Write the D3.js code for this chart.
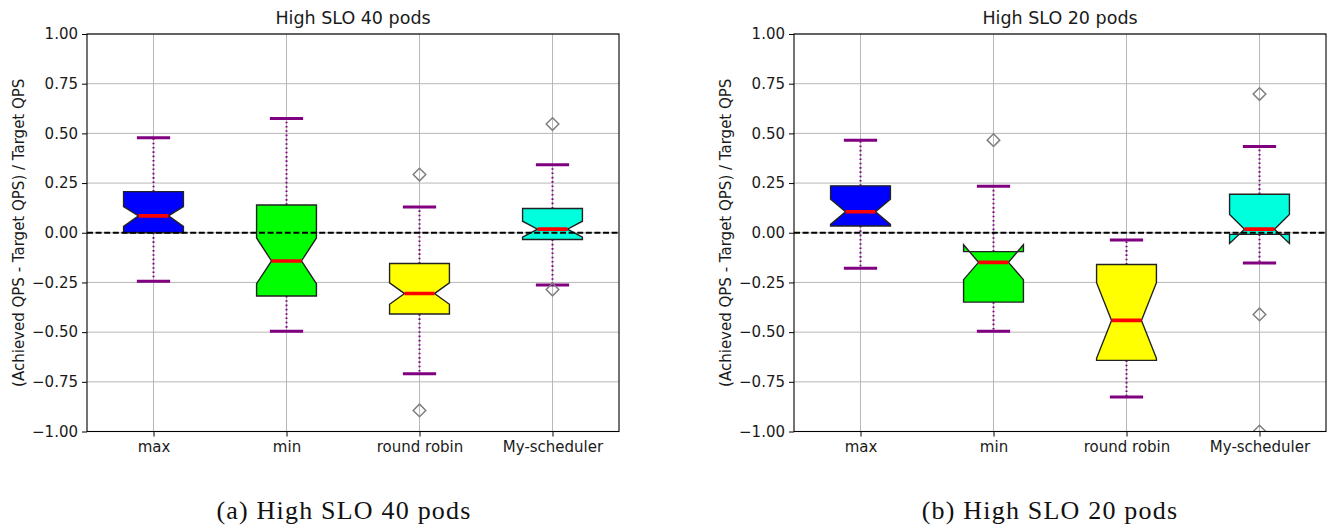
<!DOCTYPE html>
<html>
<head>
<meta charset="utf-8">
<script src="https://cdn.jsdelivr.net/npm/d3@7"></script>
<style>
  body { margin: 0; background: #ffffff; }
  svg { display: block; }
</style>
</head>
<body>
<svg id="chart" width="1336" height="528"></svg>
<script>
// Scheduler categories and y-axis ticks
const categories = ["max", "min", "round robin", "My-scheduler"];
const yTicks = [-1, -0.75, -0.5, -0.25, 0, 0.25, 0.5, 0.75, 1];

// High SLO, 40 pods: box statistics per scheduler
const pods40Q1       = [0.000, -0.318, -0.409, -0.034];
const pods40Q3       = [0.207,  0.140, -0.155,  0.122];
const pods40Median   = [0.085, -0.142, -0.306,  0.018];
const pods40NotchLo  = [0.032, -0.256, -0.360, -0.022];
const pods40NotchHi  = [0.132, -0.026, -0.252,  0.058];
const pods40WhiskLo  = [-0.244, -0.496, -0.709, -0.263];
const pods40WhiskHi  = [0.478,  0.575,  0.130,  0.342];
const pods40Outliers = [[], [], [0.293, -0.894], [0.547, -0.286]];

// High SLO, 20 pods: box statistics per scheduler
const pods20Q1       = [0.034, -0.349, -0.642, -0.008];
const pods20Q3       = [0.236, -0.095, -0.160,  0.194];
const pods20Median   = [0.106, -0.149, -0.441,  0.018];
const pods20NotchLo  = [0.042, -0.236, -0.632, -0.054];
const pods20NotchHi  = [0.169, -0.060, -0.251,  0.092];
const pods20WhiskLo  = [-0.179, -0.496, -0.827, -0.152];
const pods20WhiskHi  = [0.466,  0.234, -0.036,  0.434];
const pods20Outliers = [[], [0.466], [], [0.698, -0.411, -1.0]];

const titles = ["High SLO 40 pods", "High SLO 20 pods"];
const captions = ["(a) High SLO 40 pods", "(b) High SLO 20 pods"];
const yLabel = "(Achieved QPS - Target QPS) / Target QPS";

const boxFill = ["#0000ff", "#00ff00", "#ffff00", "#00ffdd"];

function buildRows(q1, q3, med, nlo, nhi, wlo, whi, out) {
  return categories.map((c, i) => ({
    cat: c, q1: q1[i], q3: q3[i], med: med[i],
    nlo: nlo[i], nhi: nhi[i], wlo: wlo[i], whi: whi[i], out: out[i], idx: i
  }));
}

const panels = [
  { rows: buildRows(pods40Q1, pods40Q3, pods40Median, pods40NotchLo, pods40NotchHi, pods40WhiskLo, pods40WhiskHi, pods40Outliers),
    left: 87, title: titles[0], caption: captions[0], capX: 344 },
  { rows: buildRows(pods20Q1, pods20Q3, pods20Median, pods20NotchLo, pods20NotchHi, pods20WhiskLo, pods20WhiskHi, pods20Outliers),
    left: 794, title: titles[1], caption: captions[1], capX: 1050 }
];

const svg = d3.select("#chart");
const plotTop = 34, W = 532, H = 397.5;
const sans = "DejaVu Sans, sans-serif";

panels.forEach((p, pi) => {
  const g = svg.append("g").attr("transform", `translate(${p.left},${plotTop})`);
  const x = d3.scalePoint().domain(categories).range([0, W]).padding(0.5);
  const y = d3.scaleLinear().domain([-1, 1]).range([H, 0]);
  const step = x.step();
  const hw = step * 0.225, nw = hw / 2, cw = step * 0.125;

  const clipId = "clip" + pi;
  g.append("clipPath").attr("id", clipId)
    .append("rect").attr("width", W).attr("height", H);

  // grid
  const grid = g.append("g");
  grid.selectAll(".gy").data(yTicks).join("line")
    .attr("x1", 0).attr("x2", W)
    .attr("y1", d => y(d)).attr("y2", d => y(d))
    .attr("stroke", "#b0b0b0").attr("stroke-width", 0.9);
  grid.selectAll(".gx").data(categories).join("line")
    .attr("x1", d => x(d)).attr("x2", d => x(d))
    .attr("y1", 0).attr("y2", H)
    .attr("stroke", "#b0b0b0").attr("stroke-width", 0.9);

  const plot = g.append("g").attr("clip-path", `url(#${clipId})`);

  // whiskers
  plot.selectAll(".wh").data(p.rows.flatMap(r => [[r, r.q3, r.whi], [r, r.q1, r.wlo]])).join("line")
    .attr("x1", d => x(d[0].cat)).attr("x2", d => x(d[0].cat))
    .attr("y1", d => y(d[1])).attr("y2", d => y(d[2]))
    .attr("stroke", "#800080").attr("stroke-width", 2)
    .attr("stroke-dasharray", "1.6,2.7");

  // caps
  plot.selectAll(".cap").data(p.rows.flatMap(r => [[r, r.whi], [r, r.wlo]])).join("line")
    .attr("x1", d => x(d[0].cat) - cw).attr("x2", d => x(d[0].cat) + cw)
    .attr("y1", d => y(d[1])).attr("y2", d => y(d[1]))
    .attr("stroke", "#800080").attr("stroke-width", 3);

  // notched boxes
  const line = d3.line().x(d => d[0]).y(d => y(d[1]));
  plot.selectAll(".box").data(p.rows).join("path")
    .attr("d", r => {
      const c = x(r.cat);
      return line([
        [c - hw, r.q1], [c - hw, r.nlo], [c - nw, r.med], [c - hw, r.nhi], [c - hw, r.q3],
        [c + hw, r.q3], [c + hw, r.nhi], [c + nw, r.med], [c + hw, r.nlo], [c + hw, r.q1]
      ]) + "Z";
    })
    .attr("fill", r => boxFill[r.idx])
    .attr("stroke", "#222").attr("stroke-width", 1.4)
    .attr("stroke-linejoin", "miter");

  // medians
  plot.selectAll(".med").data(p.rows).join("line")
    .attr("x1", r => x(r.cat) - nw).attr("x2", r => x(r.cat) + nw)
    .attr("y1", r => y(r.med)).attr("y2", r => y(r.med))
    .attr("stroke", "#ff0000").attr("stroke-width", 3.6);

  // outliers
  plot.selectAll(".fl").data(p.rows.flatMap(r => r.out.map(v => [r, v]))).join("path")
    .attr("transform", d => `translate(${x(d[0].cat)},${y(d[1])})`)
    .attr("d", "M0,-6.3L6.3,0L0,6.3L-6.3,0Z")
    .attr("fill", "none").attr("stroke", "#808080").attr("stroke-width", 1.5);

  // zero reference line
  plot.append("line")
    .attr("x1", 0).attr("x2", W).attr("y1", y(0)).attr("y2", y(0))
    .attr("stroke", "#000").attr("stroke-width", 2)
    .attr("stroke-dasharray", "6,2.6");

  // frame
  g.append("rect").attr("width", W).attr("height", H)
    .attr("fill", "none").attr("stroke", "#000").attr("stroke-width", 1.1);

  // axes
  const ya = g.append("g").call(d3.axisLeft(y).tickValues(yTicks).tickFormat(d3.format(".2f")).tickSize(5).tickPadding(4));
  const xa = g.append("g").attr("transform", `translate(0,${H})`)
    .call(d3.axisBottom(x).tickSize(5).tickPadding(5));
  [ya, xa].forEach(a => {
    a.select(".domain").remove();
    a.selectAll("line").attr("stroke", "#000").attr("stroke-width", 1);
    a.selectAll("text").attr("font-family", sans).attr("font-size", 15).attr("fill", "#1a1a1a");
  });

  // title
  g.append("text").attr("x", W / 2).attr("y", -10)
    .attr("text-anchor", "middle").attr("font-family", sans).attr("font-size", 17.5)
    .attr("fill", "#1a1a1a").text(p.title);

  // y label
  g.append("text")
    .attr("transform", `translate(${-68},${H / 2}) rotate(-90)`)
    .attr("text-anchor", "middle").attr("dominant-baseline", "central")
    .attr("font-family", sans).attr("font-size", 15).attr("fill", "#1a1a1a")
    .text(yLabel);

  // caption
  svg.append("text").attr("x", p.capX).attr("y", 519)
    .attr("text-anchor", "middle").attr("font-family", "Liberation Serif, serif")
    .attr("font-size", 26).attr("letter-spacing", 1.2).attr("fill", "#111")
    .text(p.caption);
});
</script>
</body>
</html>
